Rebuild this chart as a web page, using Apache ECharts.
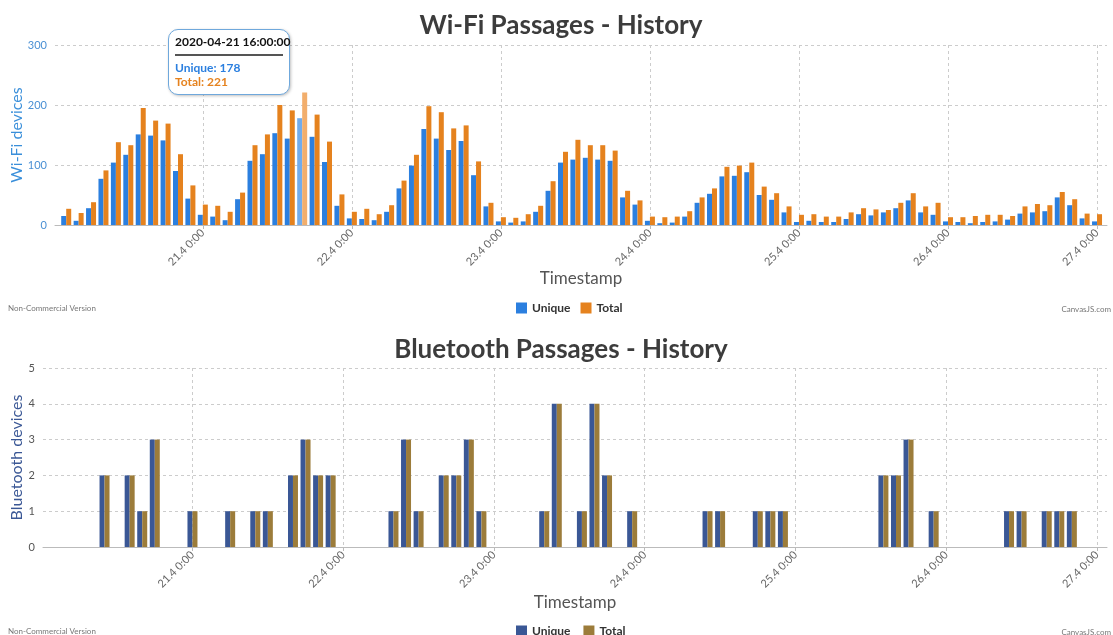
<!DOCTYPE html>
<html><head><meta charset="utf-8">
<script src="https://cdn.jsdelivr.net/npm/echarts@6/dist/echarts.min.js"></script>
<style>html,body{margin:0;padding:0;background:#fff}#c{width:1113px;height:635px}</style>
</head><body><div id="c"></div><script>
const timestamps = [
 '2020-04-20T02:00','2020-04-20T04:00','2020-04-20T06:00','2020-04-20T08:00','2020-04-20T10:00','2020-04-20T12:00','2020-04-20T14:00','2020-04-20T16:00','2020-04-20T18:00','2020-04-20T20:00','2020-04-20T22:00','2020-04-21T00:00',
 '2020-04-21T02:00','2020-04-21T04:00','2020-04-21T06:00','2020-04-21T08:00','2020-04-21T10:00','2020-04-21T12:00','2020-04-21T14:00','2020-04-21T16:00','2020-04-21T18:00','2020-04-21T20:00','2020-04-21T22:00','2020-04-22T00:00',
 '2020-04-22T02:00','2020-04-22T04:00','2020-04-22T06:00','2020-04-22T08:00','2020-04-22T10:00','2020-04-22T12:00','2020-04-22T14:00','2020-04-22T16:00','2020-04-22T18:00','2020-04-22T20:00','2020-04-22T22:00','2020-04-23T00:00',
 '2020-04-23T02:00','2020-04-23T04:00','2020-04-23T06:00','2020-04-23T08:00','2020-04-23T10:00','2020-04-23T12:00','2020-04-23T14:00','2020-04-23T16:00','2020-04-23T18:00','2020-04-23T20:00','2020-04-23T22:00','2020-04-24T00:00',
 '2020-04-24T02:00','2020-04-24T04:00','2020-04-24T06:00','2020-04-24T08:00','2020-04-24T10:00','2020-04-24T12:00','2020-04-24T14:00','2020-04-24T16:00','2020-04-24T18:00','2020-04-24T20:00','2020-04-24T22:00','2020-04-25T00:00',
 '2020-04-25T02:00','2020-04-25T04:00','2020-04-25T06:00','2020-04-25T08:00','2020-04-25T10:00','2020-04-25T12:00','2020-04-25T14:00','2020-04-25T16:00','2020-04-25T18:00','2020-04-25T20:00','2020-04-25T22:00','2020-04-26T00:00',
 '2020-04-26T02:00','2020-04-26T04:00','2020-04-26T06:00','2020-04-26T08:00','2020-04-26T10:00','2020-04-26T12:00','2020-04-26T14:00','2020-04-26T16:00','2020-04-26T18:00','2020-04-26T20:00','2020-04-26T22:00','2020-04-27T00:00'
];
const wifiUnique = [
 15,7,28,77,104,117,151,149,141,90,44,17,
 14,8,43,107,118,153,144,178,147,105,32,11,
 10,8,22,61,99,160,144,125,140,83,31,6,
 4,6,22,57,104,109,112,109,107,46,34,7,
 3,4,14,37,52,81,82,88,50,42,21,5,
 7,5,5,10,18,16,21,28,41,21,17,6,
 5,3,5,6,9,19,21,23,46,33,11,6
];
const wifiTotal = [
 27,20,38,91,138,133,195,174,169,118,66,34,
 32,22,54,133,151,200,191,221,184,139,51,22,
 27,18,33,74,117,198,188,161,166,106,37,13,
 12,18,32,73,122,142,133,133,124,57,41,14,
 13,14,23,46,61,97,99,104,64,53,31,17,
 18,14,14,21,28,26,25,37,53,31,37,13,
 13,15,17,17,15,31,35,33,55,43,19,18
];
const btUnique = [
 0,0,0,0,2,0,2,1,3,0,0,1,
 0,0,1,0,1,1,0,2,3,2,2,0,
 0,0,0,1,3,1,0,2,2,3,1,0,
 0,0,0,1,4,0,1,4,2,0,1,0,
 0,0,0,0,1,1,0,0,1,1,1,0,
 0,0,0,0,0,0,2,2,3,0,1,0,
 0,0,0,0,1,1,0,1,1,1,0,0
];
const btTotal = [
 0,0,0,0,2,0,2,1,3,0,0,1,
 0,0,1,0,1,1,0,2,3,2,2,0,
 0,0,0,1,3,1,0,2,2,3,1,0,
 0,0,0,1,4,0,1,4,2,0,1,0,
 0,0,0,0,1,1,0,0,1,1,1,0,
 0,0,0,0,0,0,2,2,3,0,1,0,
 0,0,0,0,1,1,0,1,1,1,0,0
];
const seriesNames = ['Unique', 'Total'];
const highlightIndex = 19;
const axisMin = '2020-04-20T01:00';
const axisMax = '2020-04-27T00:48';

const FONT = 'Lato, "Open Sans", sans-serif';
const C = {
  wU: '#2B7FDF', wT: '#E5821E', wUh: '#72ACEC', wTh: '#F2AE6C',
  bU: '#3A5795', bT: '#9C7C3A'
};
const tms = timestamps.map(s => new Date(s).getTime());
function pad(n){ return (n<10?'0':'') + n; }
function fmtTick(v){ const d = new Date(v); return d.getDate() + '.' + (d.getMonth()+1) + ' ' + d.getHours() + ':' + pad(d.getMinutes()); }
function fmtFull(v){ const d = new Date(v); return d.getFullYear()+'-'+pad(d.getMonth()+1)+'-'+pad(d.getDate())+' '+pad(d.getHours())+':'+pad(d.getMinutes())+':'+pad(d.getSeconds()); }

function pairs(vals, hlColor){
  return vals.map((v,i) => {
    const o = { value: [tms[i], v] };
    if (hlColor && i === highlightIndex) o.itemStyle = { color: hlColor };
    return o;
  });
}

function xAxis(gi){
  return {
    type: 'time', gridIndex: gi,
    min: new Date(axisMin).getTime(), max: new Date(axisMax).getTime(),
    minInterval: 86400000, maxInterval: 86400000,
    name: 'Timestamp', nameLocation: 'middle', nameGap: gi === 0 ? 45 : 47, nameMoveOverlap: false,
    nameTextStyle: { fontSize: 17, color: '#555', fontFamily: FONT },
    axisLine: { show: true, lineStyle: { color: '#bbb' } },
    axisTick: { show: true, length: 4, lineStyle: { color: '#bbb' } },
    axisLabel: { rotate: 45, fontSize: 11, color: '#666', fontFamily: FONT, margin: 6,
      showMinLabel: false, showMaxLabel: false, formatter: fmtTick, hideOverlap: false },
    splitLine: { show: true, showMinLine: false, showMaxLine: false, lineStyle: { color: '#ccc', type: [3,3] } }
  };
}
function yAxis(gi, max, name, labelColor, nameColor, gap){
  return {
    type: 'value', gridIndex: gi, min: 0, max: max, interval: gi === 0 ? 100 : 1,
    name: name, nameLocation: 'middle', nameGap: gap, nameMoveOverlap: false,
    nameTextStyle: { fontSize: 16, color: nameColor, fontFamily: FONT },
    axisLine: { show: false }, axisTick: { show: false },
    axisLabel: { fontSize: 11, color: labelColor, fontFamily: FONT, margin: 8 },
    splitLine: { show: true, lineStyle: { color: '#ccc', type: [3,3] } }
  };
}

const chart = echarts.init(document.getElementById('c'), null, { renderer: 'canvas' });
chart.setOption({
  animation: false,
  backgroundColor: '#fff',
  title: [
    { text: 'Wi-Fi Passages - History', left: 556, top: 8, textAlign: 'center',
      textStyle: { fontSize: 26, fontWeight: 'bold', color: '#3c3c3c', fontFamily: FONT } },
    { text: 'Bluetooth Passages - History', left: 556, top: 332, textAlign: 'center',
      textStyle: { fontSize: 26, fontWeight: 'bold', color: '#3c3c3c', fontFamily: FONT } }
  ],
  grid: [
    { left: 55, right: 6, top: 45, height: 180, outerBoundsMode: 'none', containLabel: false },
    { left: 43, right: 6, top: 368, height: 179, outerBoundsMode: 'none', containLabel: false }
  ],
  legend: [
    { left: 511, top: 297, icon: 'rect', itemWidth: 11, itemHeight: 11, itemGap: 10,
      textStyle: { fontSize: 12, fontWeight: 'bold', color: '#333', fontFamily: FONT },
      data: [ { name: seriesNames[0], itemStyle: { color: C.wU } }, { name: seriesNames[1], itemStyle: { color: C.wT } } ] },
    { left: 511, top: 620, icon: 'rect', itemWidth: 11, itemHeight: 11, itemGap: 10,
      textStyle: { fontSize: 12, fontWeight: 'bold', color: '#333', fontFamily: FONT },
      data: [ { name: seriesNames[0] + ' ', itemStyle: { color: C.bU } }, { name: seriesNames[1] + ' ', itemStyle: { color: C.bT } } ] }
  ],
  tooltip: {
    trigger: 'item', triggerOn: 'none', alwaysShowContent: true, transitionDuration: 0,
    position: [168, 29], backgroundColor: '#fff', borderColor: '#6fa8dc', borderWidth: 1,
    padding: [5, 6], extraCssText: 'border-radius:10px;box-shadow:1px 1px 3px rgba(0,0,0,0.25);',
    formatter: function(p){
      const i = p.dataIndex;
      return '<div style="font-family:Lato,sans-serif;font-weight:bold;font-size:12px;line-height:14px;width:108px">' +
        '<div style="color:#111">' + fmtFull(tms[i]) + '</div>' +
        '<div style="border-top:2px solid #555;margin:5px 0 5px 0"></div>' +
        '<div style="color:' + C.wU + '">' + seriesNames[0] + ': ' + wifiUnique[i] + '</div>' +
        '<div style="color:' + C.wT + '">' + seriesNames[1] + ': ' + wifiTotal[i] + '</div></div>';
    }
  },
  xAxis: [ xAxis(0), xAxis(1) ],
  yAxis: [
    yAxis(0, 300, 'Wi-Fi devices', '#4A90D4', '#3A8FDA', 30),
    yAxis(1, 5, 'Bluetooth devices', '#555', '#3A5795', 18)
  ],
  series: [
    { name: seriesNames[0], type: 'bar', xAxisIndex: 0, yAxisIndex: 0, barWidth: 5, barGap: '0%',
      itemStyle: { color: C.wU }, data: pairs(wifiUnique, C.wUh) },
    { name: seriesNames[1], type: 'bar', xAxisIndex: 0, yAxisIndex: 0, barWidth: 5, barGap: '0%',
      itemStyle: { color: C.wT }, data: pairs(wifiTotal, C.wTh) },
    { name: seriesNames[0] + ' ', type: 'bar', xAxisIndex: 1, yAxisIndex: 1, barWidth: 5, barGap: '0%',
      itemStyle: { color: C.bU }, data: pairs(btUnique), tooltip: { show: false } },
    { name: seriesNames[1] + ' ', type: 'bar', xAxisIndex: 1, yAxisIndex: 1, barWidth: 5, barGap: '0%',
      itemStyle: { color: C.bT }, data: pairs(btTotal), tooltip: { show: false } }
  ],
  graphic: [
    { type: 'text', left: 8, top: 304, style: { text: 'Non-Commercial Version', fontSize: 8, fill: '#777', fontFamily: FONT } },
    { type: 'text', right: 2, top: 305, style: { text: 'CanvasJS.com', fontSize: 8, fill: '#777', fontFamily: FONT } },
    { type: 'text', left: 8, top: 627, style: { text: 'Non-Commercial Version', fontSize: 8, fill: '#777', fontFamily: FONT } },
    { type: 'text', right: 2, top: 628, style: { text: 'CanvasJS.com', fontSize: 8, fill: '#777', fontFamily: FONT } }
  ]
});
chart.dispatchAction({ type: 'showTip', seriesIndex: 0, dataIndex: highlightIndex });
</script></body></html>
